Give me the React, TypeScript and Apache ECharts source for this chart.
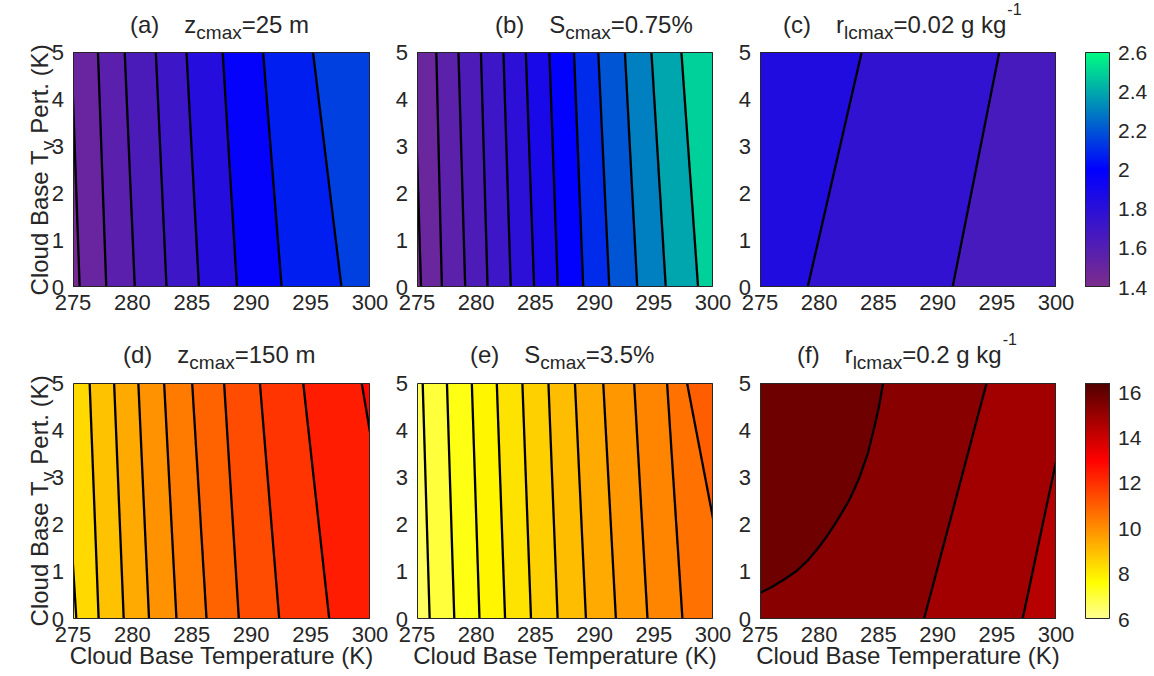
import { useEffect, useRef } from 'react';
import * as echarts from 'echarts';

const FONT = '"Liberation Sans", Arial, Helvetica, sans-serif';
const INK = '#262626';

// Axes
const tempMin = 275, tempMax = 300, tempStep = 5;
const pertMin = 0, pertMax = 5, pertStep = 1;

// Contour lines: points [cloud-base temperature (K), Tv perturbation (K)], from Tv pert 0 up to 5.
// A line that leaves through a side of the frame is continued outside it (the outside part is clipped).
const linesA = [
  [[275.56, 0], [274.86, 5]],
  [[277.8, 0], [277.1, 5]],
  [[280.2, 0], [279.35, 5]],
  [[282.87, 0], [281.97, 5]],
  [[285.6, 0], [284.55, 5]],
  [[288.8, 0], [287.6, 5]],
  [[292.56, 0], [291.0, 5]],
  [[297.6, 0], [295.2, 5]],
];
const bandsA = [1.44, 1.5, 1.57, 1.64, 1.71, 1.82, 1.98, 2.07, 2.15];

const linesB = [
  [[275.34, 0], [274.74, 5]],
  [[277.1, 0], [276.63, 5]],
  [[279.07, 0], [278.5, 5]],
  [[280.96, 0], [280.4, 5]],
  [[282.92, 0], [282.3, 5]],
  [[284.89, 0], [284.19, 5]],
  [[286.89, 0], [286.18, 5]],
  [[289.04, 0], [288.26, 5]],
  [[291.24, 0], [290.31, 5]],
  [[293.6, 0], [292.56, 5]],
  [[296.01, 0], [294.8, 5]],
  [[298.74, 0], [297.33, 5]],
];
const bandsB = [1.43, 1.49, 1.56, 1.63, 1.71, 1.79, 1.88, 1.99, 2.1, 2.2, 2.3, 2.39, 2.49];

const linesC = [
  [[279.03, 0], [283.59, 5]],
  [[291.27, 0], [295.21, 5]],
];
const bandsC = [1.84, 1.76, 1.66];

const linesD = [
  [[275.28, 0], [274.04, 5]],
  [[277.16, 0], [276.4, 5]],
  [[279.27, 0], [278.46, 5]],
  [[281.4, 0], [280.5, 5]],
  [[283.71, 0], [282.67, 5]],
  [[286.24, 0], [285.03, 5]],
  [[288.96, 0], [287.72, 5]],
  [[292.36, 0], [290.73, 5]],
  [[296.57, 0], [294.38, 5]],
  [[302.67, 0], [299.3, 5]],
];
const bandsD = [7.9, 8.4, 8.9, 9.4, 9.9, 10.4, 10.9, 11.4, 11.9, 12.4, 12.9];

const linesE = [
  [[276.07, 0], [275.48, 5]],
  [[278.15, 0], [277.53, 5]],
  [[280.28, 0], [279.63, 5]],
  [[282.44, 0], [281.74, 5]],
  [[284.63, 0], [283.9, 5]],
  [[286.88, 0], [286.1, 5]],
  [[289.27, 0], [288.34, 5]],
  [[291.8, 0], [290.73, 5]],
  [[294.47, 0], [293.34, 5]],
  [[297.42, 0], [296.12, 5]],
  [[301.63, 0], [297.81, 5]],
];
const bandsE = [6.6, 7.0, 7.4, 7.8, 8.2, 8.6, 9.0, 9.4, 9.8, 10.2, 10.6, 11.0];

const linesF = [
  [[269.5, 0], [271.5, 0.18], [273.3, 0.36], [275.0, 0.55], [276.0, 0.68], [277.0, 0.83], [278.0, 1.0],
   [279.0, 1.23], [279.9, 1.5], [280.7, 1.77], [281.3, 2.0], [281.9, 2.25], [282.5, 2.5], [283.0, 2.77],
   [283.4, 3.0], [284.1, 3.5], [284.6, 4.0], [285.05, 4.5], [285.4, 5.0]],
  [[288.85, 0], [294.14, 5]],
  [[297.18, 0], [301.41, 5]],
];
const bandsF = [15.8, 15.3, 14.8, 14.4];

// Colour maps (value -> rgb) and colour-bar ranges
const topCmapAt = [1.4, 2.0, 2.6];
const topCmapRgb = [[125, 45, 140], [0, 0, 255], [0, 255, 130]];
const topBarMin = 1.4, topBarMax = 2.6, topBarStep = 0.2;

const botCmapAt = [6, 7, 7.6, 13, 16.4];
const botCmapRgb = [[255, 255, 150], [255, 255, 60], [255, 255, 0], [255, 0, 0], [80, 0, 0]];
const botBarMin = 6, botBarMax = 16.4, botBarStep = 2;

// Titles (rich text)
const titles = [
  '{p|(a)}{m|z}{s|cmax}{m|=25 m}',
  '{p|(b)}{m|S}{s|cmax}{m|=0.75%}',
  '{p|(c)}{m|r}{s|lcmax}{m|=0.02 g kg}{u|-1}',
  '{p|(d)}{m|z}{s|cmax}{m|=150 m}',
  '{p|(e)}{m|S}{s|cmax}{m|=3.5%}',
  '{p|(f)}{m|r}{s|lcmax}{m|=0.2 g kg}{u|-1}',
];
const yLabel = '{m|Cloud Base T}{s|v}{q|Pert. (K)}';
const xLabel = 'Cloud Base Temperature (K)';

// Layout (pixels)
const panelBoxes = [
  { left: 73, top: 52, width: 297, height: 235 },
  { left: 417, top: 52, width: 296, height: 235 },
  { left: 760, top: 52, width: 296, height: 235 },
  { left: 73, top: 383, width: 297, height: 236 },
  { left: 417, top: 383, width: 296, height: 236 },
  { left: 760, top: 383, width: 296, height: 236 },
];
const barBoxes = [
  { left: 1085, top: 52, width: 25, height: 235 },
  { left: 1085, top: 383, width: 25, height: 236 },
];
const titleLeft = [130, 495, 783, 123, 470, 797];
const titleTop = [0, 0, 0, 330, 330, 330];

function cmapColor(at: number[], rgb: number[][], v: number) {
  if (v <= at[0]) return `rgb(${rgb[0].join(',')})`;
  for (let i = 1; i < at.length; i++) {
    if (v <= at[i]) {
      const t = (v - at[i - 1]) / (at[i] - at[i - 1]);
      const c = rgb[i - 1].map((a, k) => Math.round(a + (rgb[i][k] - a) * t));
      return `rgb(${c.join(',')})`;
    }
  }
  return `rgb(${rgb[rgb.length - 1].join(',')})`;
}

const richStyles = {
  p: { fontSize: 24, fontFamily: FONT, fill: INK, lineHeight: 20, padding: [12, 25, 0, 0], verticalAlign: 'top' },
  m: { fontSize: 24, fontFamily: FONT, fill: INK, lineHeight: 20, padding: [12, 0, 0, 0], verticalAlign: 'top' },
  q: { fontSize: 24, fontFamily: FONT, fill: INK, lineHeight: 20, padding: [12, 0, 0, 7], verticalAlign: 'top' },
  s: { fontSize: 19, fontFamily: FONT, fill: INK, lineHeight: 20, padding: [22.5, 0, 0, 0], verticalAlign: 'top' },
  u: { fontSize: 16, fontFamily: FONT, fill: INK, lineHeight: 16, padding: [1, 0, 0, 1], verticalAlign: 'top' },
};

function buildOption() {
  const panels = [
    { lines: linesA, bands: bandsA, top: true },
    { lines: linesB, bands: bandsB, top: true },
    { lines: linesC, bands: bandsC, top: true },
    { lines: linesD, bands: bandsD, top: false },
    { lines: linesE, bands: bandsE, top: false },
    { lines: linesF, bands: bandsF, top: false },
  ];
  const grid: any[] = [];
  const xAxis: any[] = [];
  const yAxis: any[] = [];
  const series: any[] = [];
  const labelStyle = { fontSize: 22, fontFamily: FONT, color: INK };

  const frameSeries = (idx: number, x0: number, x1: number, y0: number, y1: number) => ({
    type: 'custom', xAxisIndex: idx, yAxisIndex: idx, silent: true, clip: false, z: 5,
    data: [[0]],
    renderItem: (_p: any, api: any) => {
      const a = api.coord([x0, y0]);
      const b = api.coord([x1, y1]);
      return {
        type: 'rect',
        shape: { x: Math.round(a[0]) + 0.5, y: Math.round(b[1]) + 0.5, width: Math.round(b[0] - a[0]) - 1, height: Math.round(a[1] - b[1]) - 1 },
        style: { fill: 'none', stroke: INK, lineWidth: 1 },
      };
    },
  });

  panels.forEach((pn, i) => {
    grid.push({ ...panelBoxes[i], containLabel: false });
    xAxis.push({
      gridIndex: i, type: 'value', min: tempMin, max: tempMax, interval: tempStep,
      axisLine: { show: false }, axisTick: { show: false }, splitLine: { show: false },
      axisLabel: { ...labelStyle, margin: 4 },
    });
    yAxis.push({
      gridIndex: i, type: 'value', min: pertMin, max: pertMax, interval: pertStep,
      axisLine: { show: false }, axisTick: { show: false }, splitLine: { show: false },
      axisLabel: { ...labelStyle, margin: 9, lineHeight: 18, padding: [0, 0, 5, 0] },
    });
    const at = pn.top ? topCmapAt : botCmapAt;
    const rgb = pn.top ? topCmapRgb : botCmapRgb;
    const lines = pn.lines;
    const bands = pn.bands;
    series.push({
      type: 'custom', xAxisIndex: i, yAxisIndex: i, silent: true, clip: true,
      data: bands.map((v, k) => [k, v]),
      renderItem: (params: any, api: any) => {
        const k = params.dataIndex;
        let pts: number[][];
        if (k === 0) {
          pts = [[tempMin - 10, pertMin - 1], [tempMin - 10, pertMax + 1], [tempMax + 10, pertMax + 1], [tempMax + 10, pertMin - 1]];
        } else {
          const line = lines[k - 1];
          const first = line[0];
          const last = line[line.length - 1];
          pts = [[first[0], first[1] - 1], ...line, [last[0], last[1] + 1], [tempMax + 10, last[1] + 1], [tempMax + 10, first[1] - 1]];
        }
        const c = cmapColor(at, rgb, bands[k]);
        return {
          type: 'polygon',
          shape: { points: pts.map((p) => api.coord(p)) },
          style: { fill: c, stroke: c, lineWidth: 0.6 },
        };
      },
    });
    series.push({
      type: 'custom', xAxisIndex: i, yAxisIndex: i, silent: true, clip: true, z: 3,
      data: lines.map((_l, k) => [k]),
      renderItem: (params: any, api: any) => {
        const line = lines[params.dataIndex];
        return {
          type: 'polyline',
          shape: { points: line.map((p) => api.coord(p)) },
          style: { fill: 'none', stroke: '#000', lineWidth: 2.3, lineJoin: 'round' },
        };
      },
    });
    series.push(frameSeries(i, tempMin, tempMax, pertMin, pertMax));
  });

  const bars = [
    { min: topBarMin, max: topBarMax, step: topBarStep, at: topCmapAt, rgb: topCmapRgb },
    { min: botBarMin, max: botBarMax, step: botBarStep, at: botCmapAt, rgb: botCmapRgb },
  ];
  bars.forEach((b, j) => {
    const gi = 6 + j;
    grid.push({ ...barBoxes[j], containLabel: false });
    xAxis.push({ gridIndex: gi, type: 'value', min: 0, max: 1, show: false });
    yAxis.push({
      gridIndex: gi, type: 'value', min: b.min, max: b.max, interval: b.step, position: 'right',
      axisLine: { show: false }, axisTick: { show: false }, splitLine: { show: false },
      axisLabel: { fontSize: 21, fontFamily: FONT, color: INK, margin: 8, showMaxLabel: j === 0 },
    });
    const stops = b.at.map((v, k) => ({ offset: (v - b.min) / (b.max - b.min), color: `rgb(${b.rgb[k].join(',')})` }));
    series.push({
      type: 'custom', xAxisIndex: gi, yAxisIndex: gi, silent: true, clip: true,
      data: [[0]],
      renderItem: (_p: any, api: any) => {
        const p0 = api.coord([0, b.min]);
        const p1 = api.coord([1, b.max]);
        return {
          type: 'rect',
          shape: { x: p0[0], y: p1[1], width: p1[0] - p0[0], height: p0[1] - p1[1] },
          style: { fill: new echarts.graphic.LinearGradient(0, 1, 0, 0, stops) },
        };
      },
    });
    series.push(frameSeries(gi, 0, 1, b.min, b.max));
  });

  const graphic: any[] = [];
  titles.forEach((t, i) => {
    graphic.push({
      type: 'text', x: titleLeft[i], y: titleTop[i], silent: true,
      style: { text: t, rich: richStyles, align: 'left', verticalAlign: 'top', fontFamily: FONT, fontSize: 24, fill: INK },
    });
  });
  [170, 501].forEach((cy) => {
    graphic.push({
      type: 'text', x: 25, y: cy, rotation: Math.PI / 2, silent: true,
      style: { text: yLabel, rich: richStyles, align: 'center', verticalAlign: 'middle', fontFamily: FONT, fontSize: 24, fill: INK },
    });
  });
  [3, 4, 5].forEach((i) => {
    const bx = panelBoxes[i];
    graphic.push({
      type: 'text', x: bx.left + bx.width / 2, y: 655, silent: true,
      style: { text: xLabel, align: 'center', verticalAlign: 'middle', fontFamily: FONT, fontSize: 24, fill: INK },
    });
  });

  return { animation: false, backgroundColor: '#fff', grid, xAxis, yAxis, series, graphic };
}

export default function App() {
  const ref = useRef<HTMLDivElement>(null);
  useEffect(() => {
    const chart = echarts.init(ref.current as HTMLDivElement, null, { renderer: 'svg' });
    chart.setOption(buildOption() as any);
    return () => chart.dispose();
  }, []);
  return <div ref={ref} style={{ position: 'absolute', left: 0, top: 0, width: 1154, height: 676, background: '#fff' }} />;
}
